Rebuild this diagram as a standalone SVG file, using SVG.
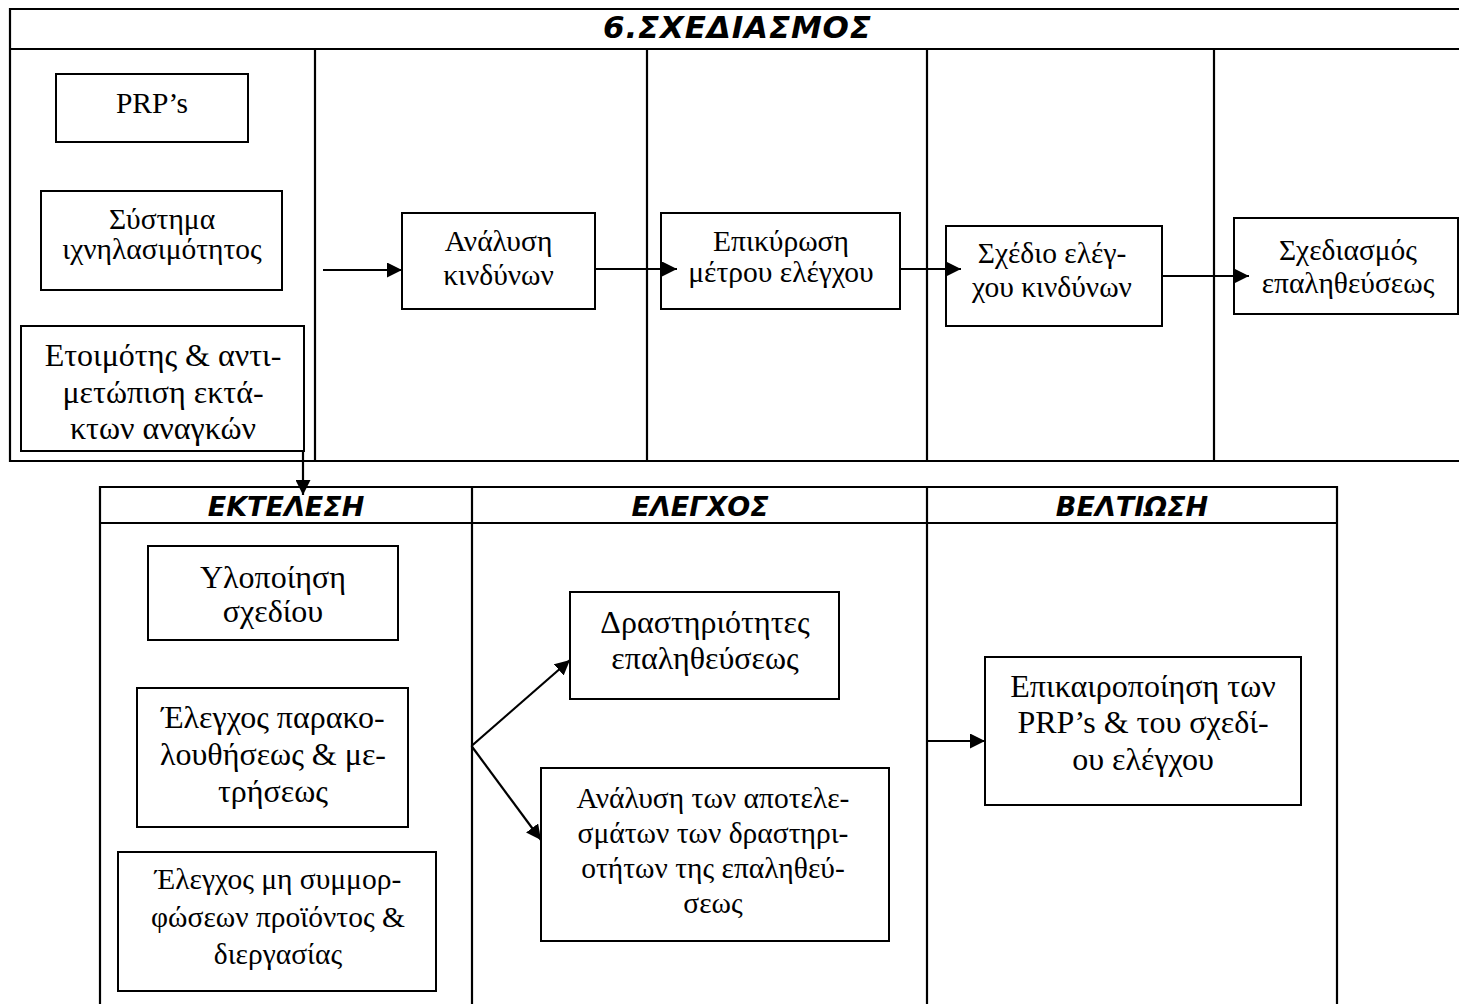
<svg xmlns="http://www.w3.org/2000/svg" width="1459" height="1004" viewBox="0 0 1459 1004">
<style>
.tbl{stroke:#000;stroke-width:2.2;fill:none}
.box{stroke:#000;stroke-width:2;fill:#fff}
.t{font-family:"Liberation Serif","Times New Roman",serif;font-size:29.5px;fill:#000;text-anchor:middle}
.tb{font-size:32px}
.h{font-family:"DejaVu Sans",Verdana,sans-serif;font-weight:bold;font-style:italic;fill:#000;text-anchor:middle}
.c{stroke:#000;stroke-width:2.2;fill:none;marker-end:url(#ah)}
</style>
<defs>
<marker id="ah" markerUnits="userSpaceOnUse" viewBox="0 0 15 15" refX="15" refY="7.5" markerWidth="15" markerHeight="15" orient="auto">
<path d="M0,0 L15,7.5 L0,15 Z" fill="#000"/>
</marker>
</defs>
<rect width="1459" height="1004" fill="#fff"/>
<g id="table-plan">
<path class="tbl" d="M1460,9 H10 V461 H1460 M10,49 H1460 M315,49 V461 M647,49 V461 M927,49 V461 M1214,49 V461"/>
<text class="h" x="737" y="38" font-size="31" textLength="268" lengthAdjust="spacing">6.ΣΧΕΔΙΑΣΜΟΣ</text>
</g>
<g id="table-do">
<path class="tbl" d="M100,1006 V487 H1337 V1006 M100,523 H1337 M472,487 V1006 M927,487 V1006"/>
<text class="h" x="286" y="516" font-size="27">ΕΚΤΕΛΕΣΗ</text>
<text class="h" x="700" y="516" font-size="27">ΕΛΕΓΧΟΣ</text>
<text class="h" x="1132" y="516" font-size="27">ΒΕΛΤΙΩΣΗ</text>
</g>
<g id="n-prp">
<rect class="box" x="56" y="74" width="192" height="68"/>
<text class="t" x="152" y="112.5" font-size="30">PRP’s</text>
</g>
<g id="n-trace">
<rect class="box" x="41" y="191" width="241" height="99"/>
<text class="t" x="162" y="229">Σύστημα</text>
<text class="t" x="162" y="258.5">ιχνηλασιμότητος</text>
</g>
<g id="n-emerg">
<rect class="box" x="21" y="326" width="283" height="125"/>
<text class="t tb" x="163" y="366">Ετοιμότης &amp; αντι-</text>
<text class="t tb" x="163" y="402.5">μετώπιση εκτά-</text>
<text class="t tb" x="163" y="439">κτων αναγκών</text>
</g>
<g id="n-hazard">
<rect class="box" x="402" y="213" width="193" height="96"/>
<text class="t" x="498.5" y="251">Ανάλυση</text>
<text class="t" x="498.5" y="285">κινδύνων</text>
</g>
<g id="n-valid">
<rect class="box" x="661" y="213" width="239" height="96"/>
<text class="t" x="781" y="251">Επικύρωση</text>
<text class="t" x="781" y="282">μέτρου ελέγχου</text>
</g>
<g id="n-hplan">
<rect class="box" x="946" y="226" width="216" height="100"/>
<text class="t" x="1052" y="263">Σχέδιο ελέγ-</text>
<text class="t" x="1052" y="297">χου κινδύνων</text>
</g>
<g id="n-verplan">
<rect class="box" x="1234" y="218" width="224" height="96"/>
<text class="t" x="1348" y="260">Σχεδιασμός</text>
<text class="t" x="1348" y="293">επαληθεύσεως</text>
</g>
<g id="n-impl">
<rect class="box" x="148" y="546" width="250" height="94"/>
<text class="t tb" x="273" y="588">Υλοποίηση</text>
<text class="t tb" x="273" y="621.5">σχεδίου</text>
</g>
<g id="n-monitor">
<rect class="box" x="137" y="688" width="271" height="139"/>
<text class="t tb" x="273" y="728">Έλεγχος παρακο-</text>
<text class="t tb" x="273" y="765">λουθήσεως &amp; με-</text>
<text class="t tb" x="273" y="802">τρήσεως</text>
</g>
<g id="n-noncon">
<rect class="box" x="118" y="852" width="318" height="139"/>
<text class="t" x="278" y="889" font-size="31">Έλεγχος μη συμμορ-</text>
<text class="t" x="278" y="926.5" font-size="31">φώσεων προϊόντος &amp;</text>
<text class="t" x="278" y="964" font-size="31">διεργασίας</text>
</g>
<g id="n-veract">
<rect class="box" x="570" y="592" width="269" height="107"/>
<text class="t tb" x="705" y="633">Δραστηριότητες</text>
<text class="t tb" x="705" y="669">επαληθεύσεως</text>
</g>
<g id="n-analysis">
<rect class="box" x="541" y="768" width="348" height="173"/>
<text class="t" x="713" y="808" font-size="31.3">Ανάλυση των αποτελε-</text>
<text class="t" x="713" y="843" font-size="31.3">σμάτων των δραστηρι-</text>
<text class="t" x="713" y="878" font-size="31.3">οτήτων της επαληθεύ-</text>
<text class="t" x="713" y="913" font-size="31.3">σεως</text>
</g>
<g id="n-update">
<rect class="box" x="985" y="657" width="316" height="148"/>
<text class="t tb" x="1143" y="697">Επικαιροποίηση των</text>
<text class="t tb" x="1143" y="733">PRP’s &amp; του σχεδί-</text>
<text class="t tb" x="1143" y="770">ου ελέγχου</text>
</g>
<g id="connectors">
<path class="c" d="M323,270 H402"/>
<path class="c" d="M595,269 H677"/>
<path class="c" d="M900,269 H961"/>
<path class="c" d="M1162,276 H1249"/>
<path class="c" d="M303,451 V495"/>
<path class="c" d="M471.5,746 L570,660"/>
<path class="c" d="M471.5,746 L541,840"/>
<path class="c" d="M927,741 H985"/>
</g>
</svg>
